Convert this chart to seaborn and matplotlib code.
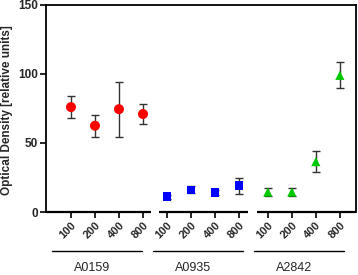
import numpy as np
import pandas as pd
import matplotlib
matplotlib.use("Agg")
import matplotlib.pyplot as plt
import seaborn as sns

# data
strains = ["A0159", "A0935", "A2842"]
doses = ["100", "200", "400", "800"]
od_mean = {
    "A0159": [76, 62.5, 74.5, 71],
    "A0935": [11, 16, 14, 19],
    "A2842": [14.5, 14.5, 36.5, 99],
}
od_err = {
    "A0159": [8, 8, 20, 7.5],
    "A0935": [1.5, 2.5, 2, 6],
    "A2842": [3, 2.7, 7.5, 9.5],
}

colors = {"A0159": "#FF0000", "A0935": "#0000FF", "A2842": "#00C800"}
markers = {"A0159": "o", "A0935": "s", "A2842": "^"}
group_shift = [0.0, 0.0, 0.2]

rows = []
for g, s in enumerate(strains):
    for i, d in enumerate(doses):
        rows.append({"strain": s, "dose": d, "pos": g * 4 + i + group_shift[g],
                     "od": od_mean[s][i], "err": od_err[s][i]})
df = pd.DataFrame(rows)

sns.set_style("ticks")
plt.rcParams["font.family"] = ["Liberation Sans", "DejaVu Sans"]

fig = plt.figure(figsize=(3.58, 2.75), dpi=100)
ax = fig.add_axes([0.1285, 0.229, 0.866, 0.753])

ax.errorbar(df["pos"], df["od"], yerr=df["err"], fmt="none", ecolor="0.2",
            elinewidth=1.0, capsize=3, capthick=1.0, zorder=2)
sizes = {"A0159": 52, "A0935": 40, "A2842": 44}
for s in strains:
    sub = df[df["strain"] == s]
    sns.scatterplot(data=sub, x="pos", y="od", marker=markers[s], color=colors[s],
                    s=sizes[s], edgecolor="none", linewidth=0, ax=ax, zorder=3, legend=False)

ax.set_xlim(-1.04, 11.875)
ax.set_ylim(0, 150)
ax.set_yticks([0, 50, 100, 150])
ax.set_yticklabels(["0", "50", "100", "150"], fontsize=8.5, fontweight="bold")
ax.set_xticks(df["pos"])
ax.set_xticklabels(df["dose"], rotation=45, ha="right", va="top",
                   rotation_mode="anchor", fontsize=8, fontweight="bold")
ax.tick_params(axis="both", direction="out", length=4, width=1.2, color="black", pad=2)
ax.set_xlabel("")

for side in ["left", "top", "right"]:
    ax.spines[side].set_linewidth(1.3)
    ax.spines[side].set_color("black")
ax.spines["bottom"].set_visible(False)

# broken x axis segments
trans = ax.get_xaxis_transform()
for x0, x1 in [(-1.04, 3.32), (3.67, 7.375), (7.75, 11.875)]:
    ax.plot([x0, x1], [0, 0], color="black", lw=1.6, transform=trans,
            clip_on=False, solid_capstyle="butt")

# group underlines and labels
for (x0, x1), s in zip([(-0.79, 2.96), (3.42, 7.17), (7.63, 11.375)], strains):
    ax.plot([x0, x1], [-0.187, -0.187], color="black", lw=1.0, transform=trans, clip_on=False)
    ax.text((x0 + x1) / 2 - 0.2, -0.272, s, transform=trans, ha="center", va="center",
            fontsize=9)

ax.set_ylabel("Optical Density [relative units]", fontsize=8.5, fontweight="bold")
ax.yaxis.set_label_coords(-0.108, 0.49)

fig.savefig("out.png", dpi=100)
